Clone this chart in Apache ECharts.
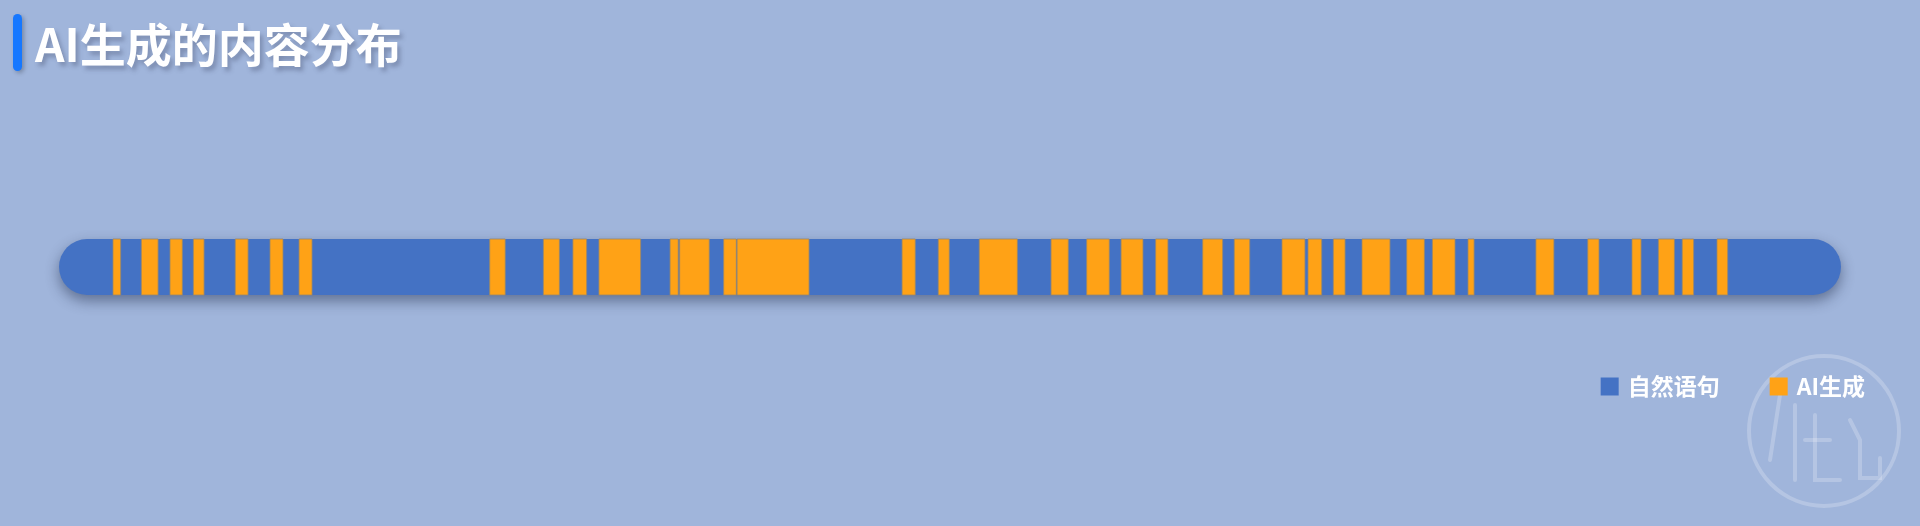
<!DOCTYPE html>
<html>
<head>
<meta charset="utf-8">
<script src="https://cdn.jsdelivr.net/npm/echarts@6/dist/echarts.min.js"></script>
<style>
html,body{margin:0;padding:0;background:#A0B5DB;}
#chart{width:1920px;height:526px;}
</style>
</head>
<body>
<div id="chart"></div>
<script>
// Total length of the text (arbitrary units)
var totalLength = 1000;
// Legend / series names
var seriesNames = ['自然语句', 'AI生成'];
// AI-generated segments: start positions
var aiStart = [30.3, 46.2, 62.3, 75.4, 98.9, 118.4, 134.7, 241.7, 271.8, 288.4, 303.0, 342.9, 348.3, 373.0, 380.5,
  473.1, 493.4, 516.4, 556.7, 576.7, 596.0, 615.4, 641.8, 659.5, 686.3, 700.9, 715.1, 731.2, 756.3, 770.7,
  790.7, 828.8, 857.9, 882.7, 897.5, 910.9, 930.4];
// AI-generated segments: end positions
var aiEnd = [34.6, 55.6, 69.2, 81.4, 106.1, 125.7, 142.0, 250.4, 280.8, 296.1, 326.4, 347.5, 364.9, 380.1, 420.9,
  480.5, 499.6, 537.8, 566.4, 589.4, 608.3, 622.3, 653.0, 668.2, 699.2, 708.6, 721.7, 746.9, 766.2, 783.4,
  794.1, 838.9, 864.2, 887.8, 906.5, 917.3, 936.4];
var titleText = 'AI生成的内容分布';

var aiData = aiStart.map(function (s, i) { return [s, aiEnd[i], 0]; });

var chart = echarts.init(document.getElementById('chart'));
var FONT = '"Noto Sans CJK SC", "Noto Sans", sans-serif';
chart.setOption({
  backgroundColor: '#A0B5DB',
  animation: false,
  title: {
    text: titleText,
    left: 30,
    top: 17,
    textStyle: {
      color: '#ffffff',
      fontSize: 46,
      fontWeight: 'bold',
      fontFamily: FONT,
      textShadowColor: 'rgba(60,70,100,0.35)',
      textShadowBlur: 4,
      textShadowOffsetX: 3,
      textShadowOffsetY: 4
    }
  },
  graphic: [
    {
      type: 'rect',
      shape: { x: 13, y: 14, width: 9, height: 57, r: 4.5 },
      style: { fill: '#1677FF', shadowColor: 'rgba(0,0,0,0.25)', shadowBlur: 4, shadowOffsetX: 2, shadowOffsetY: 2 },
      z: 10
    },
    {
      type: 'circle',
      shape: { cx: 1824, cy: 431, r: 75 },
      style: { fill: 'none', stroke: 'rgba(255,255,255,0.22)', lineWidth: 4 },
      silent: true, z: 1
    },
    {
      type: 'polyline',
      shape: { points: [[1795, 405], [1795, 480]] },
      style: { stroke: 'rgba(255,255,255,0.22)', lineWidth: 4, lineCap: 'round' }, z: 1
    },
    {
      type: 'polyline',
      shape: { points: [[1780, 395], [1770, 460]] },
      style: { stroke: 'rgba(255,255,255,0.22)', lineWidth: 4, lineCap: 'round' }, z: 1
    },
    {
      type: 'polyline',
      shape: { points: [[1815, 415], [1815, 480], [1840, 480]] },
      style: { stroke: 'rgba(255,255,255,0.22)', lineWidth: 4, lineCap: 'round', fill: 'none' }, z: 1
    },
    {
      type: 'polyline',
      shape: { points: [[1805, 440], [1830, 440]] },
      style: { stroke: 'rgba(255,255,255,0.22)', lineWidth: 4, lineCap: 'round' }, z: 1
    },
    {
      type: 'polyline',
      shape: { points: [[1850, 420], [1860, 440], [1860, 478], [1880, 478], [1880, 458]] },
      style: { stroke: 'rgba(255,255,255,0.22)', lineWidth: 4, lineCap: 'round', fill: 'none' }, z: 1
    }
  ],
  legend: {
    data: seriesNames,
    right: 50,
    top: 370,
    icon: 'rect',
    itemWidth: 18,
    itemHeight: 18,
    itemGap: 50,
    textStyle: { color: '#ffffff', fontSize: 23, fontWeight: 'bold', fontFamily: FONT, padding: [0, 0, 0, 4] }
  },
  grid: { left: 59, right: 79, top: 239, height: 56 },
  xAxis: { type: 'value', min: 0, max: totalLength, show: false },
  yAxis: { type: 'category', data: ['text'], show: false },
  series: [
    {
      name: seriesNames[0],
      type: 'bar',
      data: [totalLength],
      barWidth: 56,
      itemStyle: {
        color: '#4472C4',
        borderRadius: 28,
        shadowColor: 'rgba(20,30,60,0.45)',
        shadowBlur: 14,
        shadowOffsetY: 6
      },
      z: 2
    },
    {
      name: seriesNames[1],
      type: 'custom',
      data: aiData,
      encode: { x: [0, 1], y: 2 },
      itemStyle: { color: '#FFA216' },
      renderItem: function (params, api) {
        var s = api.coord([api.value(0), api.value(2)]);
        var e = api.coord([api.value(1), api.value(2)]);
        var h = api.size([0, 1])[1];
        return {
          type: 'rect',
          shape: { x: s[0], y: s[1] - h / 2, width: e[0] - s[0], height: h },
          style: { fill: '#FFA216', stroke: 'rgba(150,135,110,0.8)', lineWidth: 1 }
        };
      },
      z: 3
    }
  ]
});
</script>
</body>
</html>
